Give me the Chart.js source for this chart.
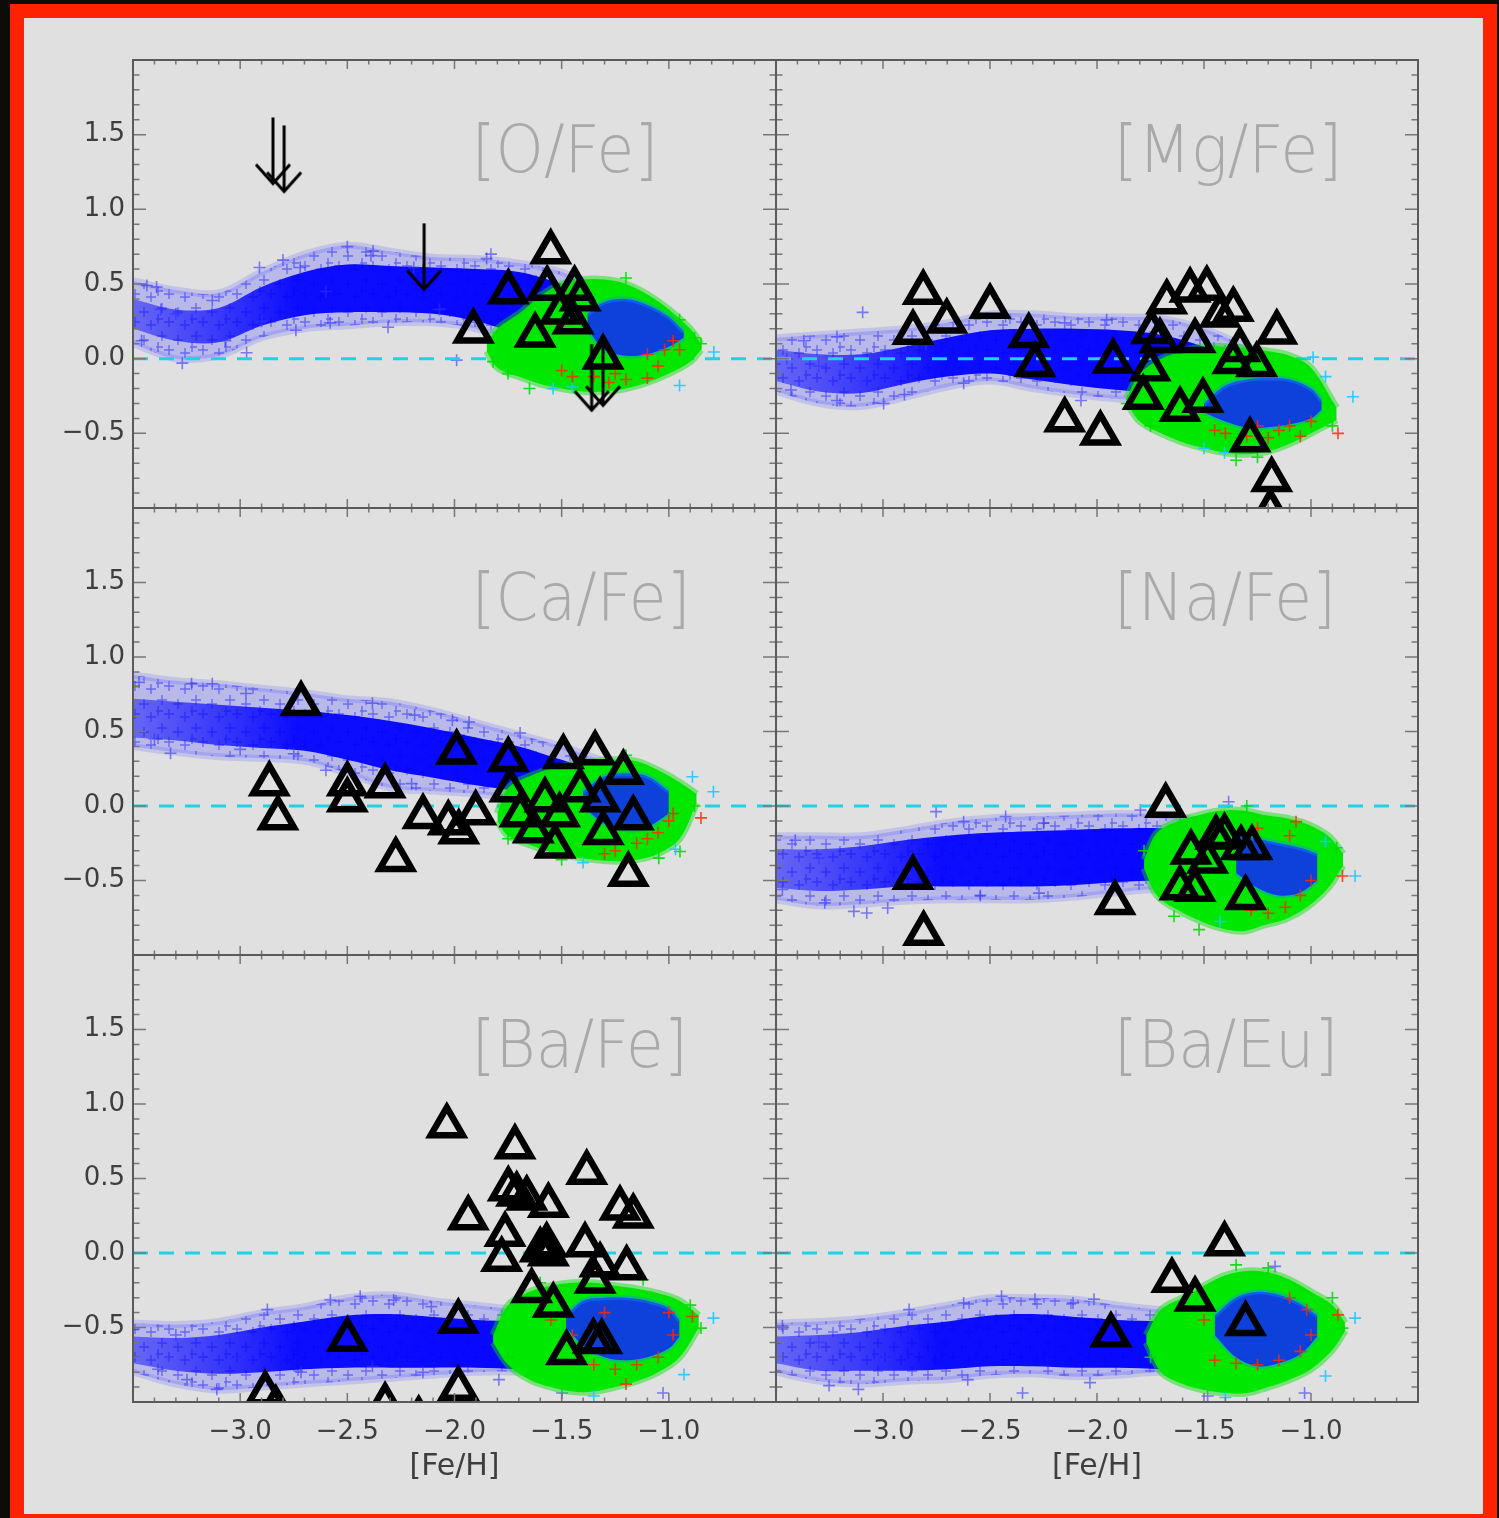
<!DOCTYPE html>
<html>
<head>
<meta charset="utf-8">
<script src="https://cdn.jsdelivr.net/npm/chart.js@4.4.1/dist/chart.umd.min.js"></script>
<style>
  html, body { margin: 0; padding: 0; width: 1499px; height: 1518px; overflow: hidden; background: #0d0c08; }
  #frame { position: absolute; left: 10px; top: 4px; width: 1487px; height: 1524px; box-sizing: border-box;
           border: 14px solid #ff2200; background: #e0e0e0; }
  canvas { position: absolute; }
</style>
</head>
<body>
<div id="frame"></div>
<canvas id="c0"></canvas><canvas id="c1"></canvas>
<canvas id="c2"></canvas><canvas id="c3"></canvas>
<canvas id="c4"></canvas><canvas id="c5"></canvas>
<script>
// Axis ticks (shared by all panels)
const xTickValues = [-3.0, -2.5, -2.0, -1.5, -1.0];
const yTickValues = [1.5, 1.0, 0.5, 0.0, -0.5];

// x grid for the model clouds (blue band edges)
const bandX = [-3.5, -3.3, -3.1, -2.9, -2.7, -2.5, -2.3, -2.1, -1.9, -1.7, -1.5, -1.3];

// ---- [O/Fe]
const oOuterHi = [0.52, 0.46, 0.44, 0.58, 0.70, 0.76, 0.72, 0.68, 0.67, 0.64, 0.58, 0.45];
const oOuterLo = [0.10, 0.00, 0.02, 0.14, 0.20, 0.22, 0.24, 0.24, 0.20, 0.10, 0.02, 0.00];
const oCoreHi = [0.40, 0.33, 0.34, 0.48, 0.58, 0.63, 0.62, 0.61, 0.60, 0.58, 0.50, 0.40];
const oCoreLo = [0.20, 0.12, 0.11, 0.22, 0.29, 0.31, 0.31, 0.30, 0.25, 0.17, 0.12, 0.12];
const oBlobX = [-1.85, -1.8, -1.7, -1.6, -1.5, -1.4, -1.3, -1.2, -1.1, -1.0, -0.9, -0.85];
const oBlobHi = [0.10, 0.20, 0.30, 0.42, 0.50, 0.53, 0.53, 0.50, 0.43, 0.33, 0.20, 0.10];
const oBlobLo = [0.05, -0.06, -0.12, -0.17, -0.20, -0.22, -0.22, -0.20, -0.16, -0.10, -0.02, 0.06];
const oMixX = [-1.38, -1.3, -1.2, -1.1, -1.0, -0.93];
const oMixHi = [0.30, 0.38, 0.40, 0.36, 0.28, 0.18];
const oMixLo = [0.20, 0.06, 0.02, 0.03, 0.08, 0.14];
const oBlue = [[-3.435, 0.49], [-3.39, 0.48], [-2.80, 0.66], [-2.50, 0.75], [-2.39, 0.69], [-2.72, 0.61],
  [-1.85, 0.67], [-3.27, -0.03], [-2.38, 0.72], [-1.83, 0.70], [-1.99, -0.01], [-2.74, 0.19], [-2.97, 0.04],
  [-3.13, 0.39], [-2.31, 0.21], [-2.58, 0.24], [-3.37, 0.33], [-2.91, 0.61], [-2.19, 0.61], [-2.07, 0.33],
  [-3.07, 0.12], [-3.46, 0.12], [-3.3, 0.3], [-3.2, 0.15], [-3.0, 0.35], [-2.6, 0.45], [-2.9, 0.25]];
const oCyan = [[-0.79, 0.045], [-0.95, -0.18], [-1.54, -0.20], [-1.45, -0.19]];
const oRed = [[-1.5, -0.08], [-1.45, -0.12], [-1.35, -0.12], [-1.25, -0.10], [-1.2, -0.14], [-1.1, -0.13],
  [-1.02, 0.06], [-0.98, 0.12], [-1.1, 0.03], [-0.95, 0.06], [-1.05, -0.05], [-1.28, -0.16]];
const oGreen = [[-1.82, -0.02], [-0.88, 0.14], [-0.85, 0.10], [-1.75, -0.1], [-1.2, 0.54], [-0.95, 0.26], [-1.65, -0.2]];
const oTri = [[-1.551, 0.714], [-1.568, 0.47], [-1.749, 0.447], [-1.912, 0.184], [-1.624, 0.157], [-1.414, 0.40],
  [-1.508, 0.31], [-1.447, 0.245], [-1.307, 0.01], [-1.44, 0.47]];
const oArrows = [[-2.847, 1.615], [-2.795, 1.562], [-2.142, 0.906], [-1.36, 0.097], [-1.307, 0.13]];

// ---- [Mg/Fe]
const mOuterHi = [0.14, 0.16, 0.18, 0.20, 0.24, 0.30, 0.30, 0.28, 0.28, 0.27, 0.20, 0.08];
const mOuterLo = [-0.22, -0.30, -0.32, -0.26, -0.19, -0.15, -0.20, -0.24, -0.27, -0.28, -0.30, -0.35];
const mCoreHi = [0.06, 0.03, 0.03, 0.08, 0.14, 0.19, 0.20, 0.20, 0.19, 0.16, 0.08, -0.02];
const mCoreLo = [-0.15, -0.22, -0.23, -0.17, -0.12, -0.10, -0.14, -0.18, -0.21, -0.23, -0.24, -0.27];
const mBlobX = [-1.86, -1.8, -1.7, -1.6, -1.5, -1.4, -1.3, -1.2, -1.1, -1.0, -0.88];
const mBlobHi = [-0.26, -0.10, 0.00, 0.05, 0.08, 0.08, 0.07, 0.05, 0.02, -0.06, -0.33];
const mBlobLo = [-0.30, -0.42, -0.50, -0.56, -0.60, -0.63, -0.64, -0.62, -0.57, -0.50, -0.41];
const mMixX = [-1.5, -1.4, -1.3, -1.2, -1.1, -1.0, -0.95];
const mMixHi = [-0.30, -0.18, -0.14, -0.13, -0.14, -0.20, -0.28];
const mMixLo = [-0.36, -0.42, -0.46, -0.46, -0.44, -0.40, -0.34];
const mBlue = [[-3.095, 0.31], [-2.623, -0.165], [-2.9, -0.24], [-2.997, -0.30], [-3.215, -0.28], [-3.43, -0.21],
  [-3.37, 0.12], [-3.215, 0.146], [-2.075, -0.28], [-1.955, 0.26], [-2.151, 0.24], [-2.427, 0.28],
  [-3.3, -0.05], [-3.1, -0.15], [-2.8, 0.1], [-3.45, 0.0]];
const mCyan = [[-0.804, -0.255], [-0.99, 0.01], [-1.404, -0.63], [-0.932, -0.12], [-1.5, -0.6]];
const mRed = [[-0.874, -0.50], [-1.45, -0.48], [-1.4, -0.5], [-1.3, -0.52], [-1.2, -0.53], [-1.15, -0.48],
  [-1.1, -0.45], [-1.0, -0.42], [-1.05, -0.52], [-1.25, -0.45]];
const mGreen = [[-1.86, -0.3], [-0.9, -0.45], [-1.35, -0.68], [-1.25, -0.66], [-0.92, -0.3], [-1.75, -0.45]];
const mTri = [[-2.812, 0.443], [-2.86, 0.176], [-2.702, 0.25], [-2.5, 0.35], [-2.319, 0.154], [-2.29, -0.04],
  [-2.151, -0.41], [-1.984, -0.50], [-1.925, -0.017], [-1.674, 0.38], [-1.565, 0.458], [-1.487, 0.47],
  [-1.363, 0.33], [-1.16, 0.177], [-1.745, 0.18], [-1.752, -0.07], [-1.784, -0.26], [-1.612, -0.34],
  [-1.505, -0.28], [-1.254, -0.04], [-1.365, -0.02], [-1.285, -0.545], [-1.184, -0.81], [-1.19, -1.02],
  [-1.706, 0.12], [-1.425, 0.29], [-1.332, 0.06], [-1.542, 0.12]];

// ---- [Ca/Fe]
const cOuterHi = [0.88, 0.84, 0.82, 0.79, 0.76, 0.72, 0.70, 0.64, 0.56, 0.48, 0.40, 0.30];
const cOuterLo = [0.40, 0.36, 0.33, 0.32, 0.30, 0.22, 0.12, 0.10, 0.08, 0.05, 0.00, -0.05];
const cCoreHi = [0.72, 0.70, 0.68, 0.66, 0.64, 0.61, 0.57, 0.52, 0.46, 0.40, 0.31, 0.22];
const cCoreLo = [0.46, 0.44, 0.41, 0.39, 0.37, 0.31, 0.24, 0.19, 0.14, 0.10, 0.06, 0.00];
const cBlobX = [-1.80, -1.75, -1.65, -1.55, -1.45, -1.35, -1.25, -1.15, -1.05, -0.95, -0.87];
const cBlobHi = [-0.05, 0.12, 0.20, 0.25, 0.28, 0.30, 0.31, 0.30, 0.24, 0.16, 0.08];
const cBlobLo = [-0.10, -0.20, -0.26, -0.31, -0.34, -0.36, -0.37, -0.36, -0.32, -0.22, 0.02];
const cMixX = [-1.4, -1.3, -1.2, -1.1, -1.0];
const cMixHi = [0.10, 0.20, 0.22, 0.20, 0.10];
const cMixLo = [0.00, -0.12, -0.16, -0.14, -0.05];
const cBlue = [[-3.472, 0.83], [-3.325, 0.354], [-3.227, 0.82], [-3.13, 0.82], [-2.973, 0.755], [-2.383, 0.69],
  [-2.186, 0.61], [-2.01, 0.575], [-1.932, 0.564], [-1.694, 0.49], [-2.6, 0.24], [-3.4, 0.45], [-3.0, 0.38],
  [-2.75, 0.35], [-2.2, 0.15]];
const cCyan = [[-0.792, 0.096], [-0.89, 0.196], [-0.969, -0.29], [-1.4, -0.38]];
const cRed = [[-0.85, -0.08], [-1.05, -0.18], [-1.1, -0.22], [-1.15, -0.25], [-1.25, -0.30], [-1.0, -0.10],
  [-0.98, -0.05], [-1.3, -0.32]];
const cGreen = [[-0.948, -0.305], [-1.047, -0.35], [-0.88, 0.0], [-1.2, 0.34], [-1.75, -0.22], [-1.5, -0.36]];
const cTri = [[-2.716, 0.686], [-2.864, 0.147], [-2.824, -0.08], [-2.5, 0.147], [-2.5, 0.04], [-2.324, 0.134],
  [-2.274, -0.36], [-2.147, -0.072], [-1.99, 0.36], [-2.029, -0.114], [-1.98, -0.175], [-1.901, -0.047],
  [-1.749, 0.31], [-1.492, 0.33], [-1.344, 0.355], [-1.212, 0.224], [-1.166, -0.08], [-1.189, -0.46],
  [-1.306, -0.18], [-1.531, -0.27], [-1.632, -0.167], [-1.741, 0.107], [-1.578, 0.04], [-1.414, 0.107],
  [-1.32, 0.04], [-1.51, -0.06], [-1.694, -0.06]];

// ---- [Na/Fe]
const nOuterHi = [-0.20, -0.20, -0.20, -0.16, -0.11, -0.08, -0.07, -0.06, -0.05, -0.06, -0.10, -0.15];
const nOuterLo = [-0.63, -0.67, -0.66, -0.64, -0.63, -0.63, -0.63, -0.61, -0.58, -0.56, -0.60, -0.62];
const nCoreHi = [-0.29, -0.29, -0.27, -0.23, -0.20, -0.18, -0.17, -0.16, -0.15, -0.15, -0.18, -0.22];
const nCoreLo = [-0.55, -0.57, -0.56, -0.54, -0.54, -0.54, -0.54, -0.53, -0.51, -0.50, -0.50, -0.52];
const nBlobX = [-1.78, -1.72, -1.62, -1.52, -1.42, -1.32, -1.22, -1.12, -1.02, -0.92, -0.85];
const nBlobHi = [-0.36, -0.18, -0.10, -0.06, -0.03, -0.03, -0.06, -0.08, -0.12, -0.20, -0.32];
const nBlobLo = [-0.42, -0.60, -0.70, -0.77, -0.82, -0.84, -0.80, -0.76, -0.68, -0.55, -0.40];
const nMixX = [-1.35, -1.25, -1.15, -1.05, -0.97];
const nMixHi = [-0.20, -0.22, -0.25, -0.28, -0.32];
const nMixLo = [-0.45, -0.55, -0.60, -0.58, -0.50];
const nBlue = [[-2.752, -0.038], [-3.136, -0.707], [-3.076, -0.718], [-2.978, -0.685], [-3.272, -0.65],
  [-3.47, -0.56], [-3.41, -0.23], [-2.623, -0.105], [-2.427, -0.07], [-2.25, -0.115], [-2.545, -0.60],
  [-2.271, -0.585], [-1.797, -0.027], [-1.385, 0.029], [-3.3, -0.35], [-3.0, -0.45]];
const nCyan = [[-0.794, -0.47], [-0.932, -0.238], [-1.425, -0.775]];
const nRed = [[-0.853, -0.47], [-1.07, -0.105], [-1.35, -0.66], [-1.28, -0.70], [-1.2, -0.72], [-1.12, -0.68],
  [-1.05, -0.60], [-1.0, -0.50], [-1.25, -0.15], [-1.1, -0.20]];
const nGreen = [[-1.523, -0.83], [-1.64, -0.74], [-0.88, -0.28], [-1.3, 0.0], [-1.78, -0.3]];
const nTri = [[-1.679, 0.003], [-2.86, -0.48], [-2.81, -0.856], [-1.916, -0.65], [-1.306, -0.615],
  [-1.444, -0.21], [-1.327, -0.28], [-1.561, -0.31], [-1.612, -0.55], [-1.542, -0.56], [-1.483, -0.37],
  [-1.404, -0.20], [-1.276, -0.28]];

// ---- [Ba/Fe]
const bOuterHi = [-0.47, -0.48, -0.46, -0.40, -0.36, -0.30, -0.28, -0.32, -0.35, -0.38, -0.40, -0.42];
const bOuterLo = [-0.80, -0.88, -0.92, -0.90, -0.88, -0.86, -0.84, -0.82, -0.80, -0.80, -0.84, -0.88];
const bCoreHi = [-0.56, -0.57, -0.55, -0.50, -0.46, -0.42, -0.41, -0.43, -0.45, -0.46, -0.48, -0.52];
const bCoreLo = [-0.74, -0.79, -0.81, -0.80, -0.78, -0.77, -0.77, -0.77, -0.77, -0.78, -0.80, -0.82];
const bBlobX = [-1.82, -1.75, -1.65, -1.55, -1.45, -1.35, -1.25, -1.15, -1.05, -0.95, -0.86];
const bBlobHi = [-0.55, -0.35, -0.26, -0.22, -0.20, -0.20, -0.22, -0.24, -0.27, -0.32, -0.42];
const bBlobLo = [-0.60, -0.75, -0.85, -0.90, -0.93, -0.93, -0.90, -0.86, -0.80, -0.70, -0.50];
const bMixX = [-1.48, -1.4, -1.3, -1.2, -1.1, -1.0, -0.95];
const bMixHi = [-0.42, -0.32, -0.30, -0.30, -0.32, -0.37, -0.45];
const bMixLo = [-0.50, -0.62, -0.70, -0.72, -0.70, -0.64, -0.56];
const bBlue = [[-3.5, -0.515], [-3.383, -0.78], [-3.248, -0.85], [-3.109, -0.915], [-2.873, -0.38],
  [-2.579, -0.315], [-2.44, -0.29], [-2.284, -0.315], [-2.108, -0.36], [-2.716, -0.80], [-2.383, -0.76],
  [-2.147, -0.80], [-1.793, -0.85], [-1.498, -0.94], [-1.027, -0.94], [-3.3, -0.55], [-3.0, -0.7]];
const bCyan = [[-0.929, -0.816], [-0.792, -0.437], [-1.35, -0.96]];
const bRed = [[-0.89, -0.426], [-1.55, -0.45], [-1.45, -0.55], [-1.35, -0.75], [-1.25, -0.78], [-1.15, -0.75],
  [-1.05, -0.70], [-0.98, -0.55], [-1.0, -0.40], [-1.3, -0.40], [-1.2, -0.88]];
const bGreen = [[-0.85, -0.504], [-1.12, -0.18], [-1.6, -0.2], [-0.9, -0.35], [-1.75, -0.7]];
const bTri = [[-2.036, 0.853], [-1.718, 0.711], [-1.383, 0.54], [-1.936, 0.235], [-1.749, 0.43], [-1.71, 0.395],
  [-1.663, 0.368], [-1.562, 0.318], [-1.228, 0.30], [-1.166, 0.247], [-1.764, 0.124], [-1.78, -0.043],
  [-1.57, 0.053], [-1.562, -0.007], [-1.391, 0.053], [-1.321, -0.08], [-1.197, -0.10], [-1.344, -0.19],
  [-1.64, -0.254], [-1.539, -0.351], [-1.982, -0.46], [-1.477, -0.67], [-1.352, -0.59], [-1.313, -0.595],
  [-1.982, -0.91], [-2.5, -0.58], [-2.883, -0.94], [-2.834, -1.04], [-2.324, -1.02], [-2.167, -1.11], [-1.60, 0.02]];

// ---- [Ba/Eu]
const eOuterHi = [-0.47, -0.46, -0.44, -0.40, -0.35, -0.30, -0.30, -0.31, -0.35, -0.38, -0.40, -0.42];
const eOuterLo = [-0.80, -0.86, -0.88, -0.86, -0.85, -0.82, -0.81, -0.83, -0.82, -0.80, -0.84, -0.88];
const eCoreHi = [-0.56, -0.55, -0.53, -0.49, -0.46, -0.42, -0.41, -0.43, -0.45, -0.46, -0.48, -0.52];
const eCoreLo = [-0.74, -0.79, -0.79, -0.79, -0.78, -0.76, -0.76, -0.77, -0.77, -0.78, -0.80, -0.82];
const eBlobX = [-1.77, -1.7, -1.6, -1.5, -1.4, -1.3, -1.2, -1.1, -1.0, -0.9, -0.84];
const eBlobHi = [-0.55, -0.38, -0.30, -0.22, -0.15, -0.12, -0.13, -0.18, -0.26, -0.35, -0.47];
const eBlobLo = [-0.60, -0.80, -0.88, -0.92, -0.94, -0.94, -0.90, -0.85, -0.78, -0.65, -0.52];
const eMixX = [-1.45, -1.35, -1.25, -1.15, -1.05, -0.97];
const eMixHi = [-0.42, -0.30, -0.26, -0.28, -0.34, -0.42];
const eMixLo = [-0.55, -0.70, -0.76, -0.74, -0.68, -0.56];
const eBlue = [[-3.47, -0.49], [-3.252, -0.89], [-3.115, -0.915], [-2.878, -0.38], [-2.623, -0.336],
  [-2.446, -0.29], [-2.29, -0.31], [-2.112, -0.336], [-2.014, -0.31], [-2.348, -0.94], [-2.604, -0.85],
  [-2.033, -0.87], [-1.483, -0.96], [-1.03, -0.94], [-1.168, -0.09], [-3.3, -0.6], [-3.0, -0.7]];
const eCyan = [[-0.794, -0.437], [-0.932, -0.825], [-1.4, -0.97]];
const eRed = [[-0.874, -0.415], [-1.5, -0.45], [-1.45, -0.72], [-1.35, -0.74], [-1.25, -0.75], [-1.15, -0.72],
  [-1.05, -0.66], [-1.0, -0.55], [-1.02, -0.38], [-1.1, -0.30]];
const eGreen = [[-0.853, -0.504], [-1.2, -0.1], [-1.35, -0.08], [-1.75, -0.7], [-0.9, -0.3]];
const eTri = [[-1.404, 0.06], [-1.65, -0.184], [-1.542, -0.31], [-1.935, -0.55], [-1.306, -0.475]];

const panelNames = ['[O/Fe]', '[Mg/Fe]', '[Ca/Fe]', '[Na/Fe]', '[Ba/Fe]', '[Ba/Eu]'];

// Panel layout: which data goes where
const panels = [
  { id: 'c0', col: 0, row: 0, outer: [oOuterHi, oOuterLo], core: [oCoreHi, oCoreLo], blob: [oBlobX, oBlobHi, oBlobLo],
    mix: [oMixX, oMixHi, oMixLo], blue: oBlue, cyan: oCyan, red: oRed, green: oGreen, tri: oTri, arrows: oArrows },
  { id: 'c1', col: 1, row: 0, outer: [mOuterHi, mOuterLo], core: [mCoreHi, mCoreLo], blob: [mBlobX, mBlobHi, mBlobLo],
    mix: [mMixX, mMixHi, mMixLo], blue: mBlue, cyan: mCyan, red: mRed, green: mGreen, tri: mTri },
  { id: 'c2', col: 0, row: 1, outer: [cOuterHi, cOuterLo], core: [cCoreHi, cCoreLo], blob: [cBlobX, cBlobHi, cBlobLo],
    mix: [cMixX, cMixHi, cMixLo], blue: cBlue, cyan: cCyan, red: cRed, green: cGreen, tri: cTri },
  { id: 'c3', col: 1, row: 1, outer: [nOuterHi, nOuterLo], core: [nCoreHi, nCoreLo], blob: [nBlobX, nBlobHi, nBlobLo],
    mix: [nMixX, nMixHi, nMixLo], blue: nBlue, cyan: nCyan, red: nRed, green: nGreen, tri: nTri },
  { id: 'c4', col: 0, row: 2, outer: [bOuterHi, bOuterLo], core: [bCoreHi, bCoreLo], blob: [bBlobX, bBlobHi, bBlobLo],
    mix: [bMixX, bMixHi, bMixLo], blue: bBlue, cyan: bCyan, red: bRed, green: bGreen, tri: bTri },
  { id: 'c5', col: 1, row: 2, outer: [eOuterHi, eOuterLo], core: [eCoreHi, eCoreLo], blob: [eBlobX, eBlobHi, eBlobLo],
    mix: [eMixX, eMixHi, eMixLo], blue: eBlue, cyan: eCyan, red: eRed, green: eGreen, tri: eTri }
];

// canvas boxes per column / row
const colBox = [{ left: 20, width: 760, padL: 0, yW: 113 }, { left: 770, width: 652, padL: 6, yW: 0 }];
const rowBox = [{ top: 50, height: 462, xH: 0 }, { top: 498, height: 461, xH: 0 }, { top: 945, height: 549, xH: 88 }];

Chart.defaults.font.family = '"DejaVu Sans", sans-serif';

const fmt = v => (v < 0 ? '\u2212' : '') + Math.abs(v).toFixed(1);
const pts = (xs, ys) => xs.map((x, i) => ({ x: x, y: ys[i] }));
const pairs = list => list.map(p => ({ x: p[0], y: p[1] }));

// open-headed upper-limit arrow, drawn downward from the point
function arrowImage() {
    const c = document.createElement('canvas');
    c.width = 44; c.height = 140;
    const g = c.getContext('2d');
    g.strokeStyle = '#000';
    g.lineWidth = 3;
    g.beginPath();
    g.moveTo(22, 70); g.lineTo(22, 136);
    g.moveTo(5, 117); g.lineTo(22, 136); g.lineTo(39, 117);
    g.stroke();
    return c;
}
const arrowImg = arrowImage();

// cross-hatched texture for the sparse part of the model cloud
function crossTexture() {
    const c = document.createElement('canvas');
    c.width = 34; c.height = 28;
    const g = c.getContext('2d');
    g.fillStyle = 'rgba(95,95,255,0.30)';
    g.fillRect(0, 0, 34, 28);
    g.strokeStyle = 'rgba(40,40,255,0.55)';
    g.lineWidth = 1.4;
    g.beginPath();
    [[6, 6], [22, 10], [13, 20], [29, 23], [2, 17]].forEach(([cx, cy]) => {
        g.moveTo(cx - 5, cy); g.lineTo(cx + 5, cy);
        g.moveTo(cx, cy - 5); g.lineTo(cx, cy + 5);
    });
    g.stroke();
    return c;
}
const crossTex = crossTexture();

function coreGradient(context) {
    const chart = context.chart;
    const a = chart.chartArea;
    if (!a) return 'rgba(0,0,255,0.9)';
    const g = chart.ctx.createLinearGradient(a.left, 0, a.right, 0);
    g.addColorStop(0, 'rgba(20,20,255,0.5)');
    g.addColorStop(0.25, 'rgba(0,0,255,0.93)');
    g.addColorStop(1, 'rgba(0,0,255,1)');
    return g;
}

function outerFill(context) {
    return context.chart.ctx.createPattern(crossTex, 'repeat');
}

function band(xs, hi, lo, color, edge, edgeW, order) {
    const common = { pointRadius: 0, tension: 0.35, borderColor: edge, borderWidth: edgeW, order: order };
    return [
        Object.assign({ data: pts(xs, hi), fill: '+1', backgroundColor: color }, common),
        Object.assign({ data: pts(xs, lo), fill: false }, common)
    ];
}

function crosses(list, color, order) {
    return { data: pairs(list), showLine: false, pointStyle: 'cross', pointRadius: 6, pointBorderWidth: 1.6,
             pointBorderColor: color, pointBackgroundColor: color, order: order };
}

function makeDatasets(p) {
    let ds = [];
    ds = ds.concat(band(bandX, p.outer[0], p.outer[1], outerFill, 'rgba(90,90,255,0.22)', 7, 20));
    ds = ds.concat(band(bandX, p.core[0], p.core[1], coreGradient, 'rgba(0,0,0,0)', 0, 19));
    ds.push(crosses(p.blue, 'rgba(50,50,255,0.6)', 18));
    ds.push({ data: [{ x: -3.5, y: 0 }, { x: -0.5, y: 0 }], borderColor: '#1fd2e6', borderWidth: 3,
              borderDash: [15, 11], pointRadius: 0, fill: false, order: 17 });
    ds = ds.concat(band(p.blob[0], p.blob[1], p.blob[2], 'rgb(0,232,0)', 'rgba(0,225,0,0.45)', 7, 16));
    ds = ds.concat(band(p.mix[0], p.mix[1], p.mix[2], 'rgba(15,35,255,0.85)', 'rgba(20,140,255,0.4)', 5, 15));
    ds.push(crosses(p.green, 'rgba(0,220,0,0.9)', 14));
    ds.push(crosses(p.cyan, 'rgba(30,200,255,0.9)', 13));
    ds.push(crosses(p.red, 'rgba(255,40,0,0.85)', 12));
    ds.push({ data: pairs(p.tri), showLine: false, pointStyle: 'triangle', pointRadius: 18.5, pointBorderWidth: 6.5,
              pointBorderColor: '#000', pointBackgroundColor: 'rgba(0,0,0,0)', order: 5 });
    if (p.arrows) {
        ds.push({ data: pairs(p.arrows), showLine: false, pointStyle: arrowImg, pointRadius: 10, order: 4 });
    }
    ds.forEach(d => { d.clip = 0; });
    return ds;
}

// frame, inward ticks and the big element label
const boxTicks = {
    id: 'boxTicks',
    beforeDatasetsDraw(chart, args, opts) {
        const { ctx, scales: { x, y } } = chart;
        ctx.save();
        ctx.fillStyle = '#a9a9a9';
        ctx.font = '200 66px "DejaVu Sans"';
        ctx.textBaseline = 'alphabetic';
        ctx.textAlign = 'left';
        ctx.translate(x.getPixelForValue(-1.92), y.getPixelForValue(1.25));
        ctx.scale(0.93, 1);
        ctx.fillText(opts.label, 0, 0);
        ctx.restore();
    },
    afterDraw(chart) {
        const { ctx, chartArea: a, scales: { x, y } } = chart;
        ctx.save();
        ctx.strokeStyle = '#777';
        ctx.lineWidth = 1.5;
        ctx.beginPath();
        for (let i = -34; i <= -6; i++) {
            const px = x.getPixelForValue(i / 10);
            const len = i % 5 === 0 ? 9 : 4.5;
            ctx.moveTo(px, a.top); ctx.lineTo(px, a.top + len);
            ctx.moveTo(px, a.bottom); ctx.lineTo(px, a.bottom - len);
        }
        for (let j = -9; j <= 19; j++) {
            const py = y.getPixelForValue(j / 10);
            const len = j % 5 === 0 ? 13 : 6.5;
            ctx.moveTo(a.left, py); ctx.lineTo(a.left + len, py);
            ctx.moveTo(a.right, py); ctx.lineTo(a.right - len, py);
        }
        ctx.stroke();
        ctx.strokeStyle = '#5a5a5a';
        ctx.lineWidth = 2;
        ctx.strokeRect(a.left, a.top, a.right - a.left, a.bottom - a.top);
        ctx.restore();
    }
};

// keep the plot box fixed: no extra room reserved for overhanging labels
function noLabelPadding(s) {
    s.paddingTop = 0; s.paddingBottom = 0; s.paddingLeft = 0; s.paddingRight = 0;
}

panels.forEach((p, k) => {
    const cb = colBox[p.col];
    const rb = rowBox[p.row];
    const showX = p.row === 2;
    const showY = p.col === 0;
    const canvas = document.getElementById(p.id);
    canvas.width = cb.width;
    canvas.height = rb.height;
    canvas.style.left = cb.left + 'px';
    canvas.style.top = rb.top + 'px';

    new Chart(canvas, {
        type: 'line',
        data: { datasets: makeDatasets(p) },
        plugins: [boxTicks],
        options: {
            animation: false,
            responsive: false,
            events: [],
            layout: { autoPadding: false, padding: { left: cb.padL, right: 4, top: 10, bottom: 4 } },
            plugins: {
                legend: { display: false },
                tooltip: { enabled: false },
                boxTicks: { label: panelNames[k] }
            },
            scales: {
                x: {
                    type: 'linear', min: -3.5, max: -0.5,
                    grid: { display: false, drawTicks: false },
                    border: { display: false },
                    afterBuildTicks: s => { s.ticks = xTickValues.map(v => ({ value: v })); },
                    ticks: { display: showX, padding: 15, color: '#3e3e3e', font: { size: 26 }, callback: v => fmt(v) },
                    title: { display: showX, text: '[Fe/H]', color: '#3e3e3e', font: { size: 30 }, padding: { top: 0, bottom: 5 } },
                    afterFit: s => { s.height = rb.xH; noLabelPadding(s); }
                },
                y: {
                    type: 'linear', min: -1, max: 2,
                    grid: { display: false, drawTicks: false },
                    border: { display: false },
                    afterBuildTicks: s => { s.ticks = yTickValues.map(v => ({ value: v })); },
                    ticks: { display: showY, padding: 8, color: '#3e3e3e', font: { size: 26 }, callback: v => fmt(v) },
                    afterFit: s => { s.width = cb.yW; noLabelPadding(s); }
                }
            }
        }
    });
});
</script>
</body>
</html>
